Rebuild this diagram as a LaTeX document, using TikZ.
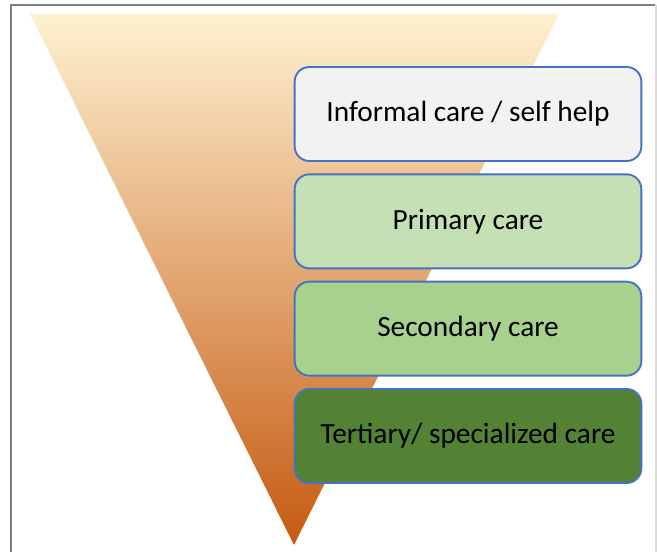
\documentclass[tikz,border=0pt]{standalone}
\usepackage{fontspec}
\setmainfont{Carlito}
\usetikzlibrary{positioning}

\definecolor{frameGray}{HTML}{7F7F7F}
\definecolor{coneTop}{HTML}{FEF1D0}
\definecolor{coneBot}{HTML}{C55A11}
\definecolor{boxLine}{HTML}{4472C4}
\definecolor{careInformal}{HTML}{F2F2F2}
\definecolor{carePrimary}{HTML}{C5E0B4}
\definecolor{careSecondary}{HTML}{A9D18E}
\definecolor{careTertiary}{HTML}{548235}

\begin{document}
\begin{tikzpicture}[%
        x=0.75pt, y=-0.75pt,
        font=\fontsize{22}{26}\selectfont,
        level/.style={draw=boxLine, line width=1.4pt, rounded corners=11pt,
                      minimum width=260pt, minimum height=70.5pt,
                      inner sep=0pt, outer sep=0pt},
        node distance=10pt
        ]
            \useasboundingbox (0,0) rectangle (657,552);

            % Rahmen
            \draw [frameGray, line width=1pt] (11,552) -- (11,5) -- (655,5);
            \draw [black!15, line width=0.8pt] (656,5) -- (656,552);

            % Trichter
            \shade [top color=coneTop, bottom color=coneBot]
                (30,14) -- (559,14) -- (294,545) -- cycle;

            % Ebenen
            \node [level, fill=careInformal] (informal) at (468,114)
                {Informal care / self help};
            \node [level, fill=carePrimary, below=of informal] (primary)
                {Primary care};
            \node [level, fill=careSecondary, below=of primary] (secondary)
                {Secondary care};
            \node [level, fill=careTertiary, below=of secondary] (tertiary)
                {Tertiary/ specialized care};
\end{tikzpicture}
\end{document}
